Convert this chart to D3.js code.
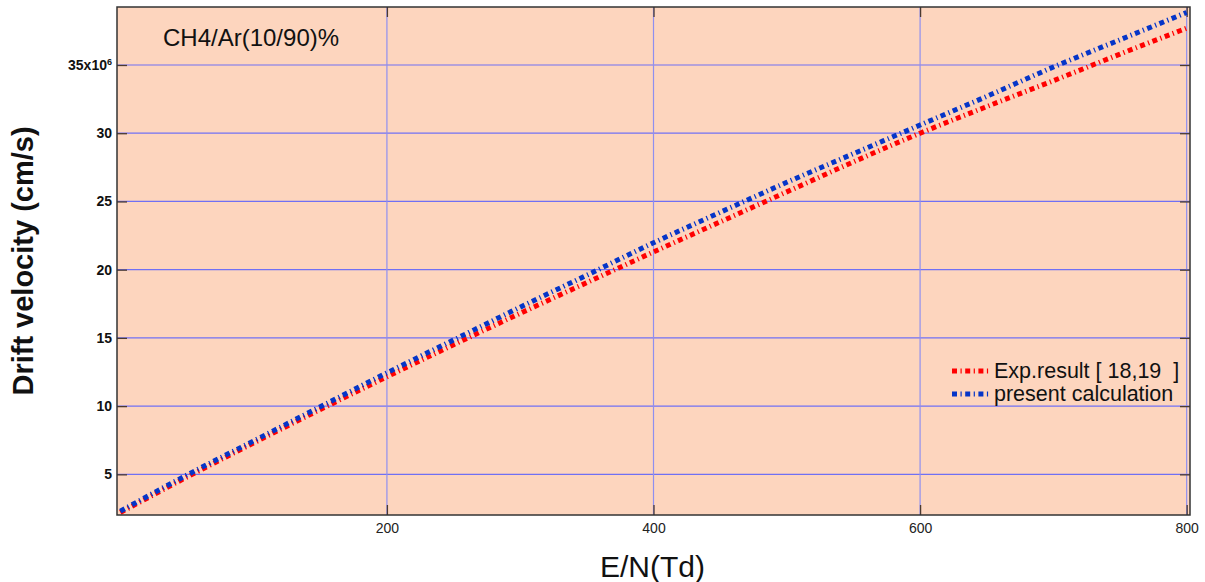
<!DOCTYPE html>
<html>
<head>
<meta charset="utf-8">
<script src="https://cdn.jsdelivr.net/npm/d3@7"></script>
<style>
  body { margin: 0; background: #ffffff; }
  text { font-family: "Liberation Sans", Arial, sans-serif; }
</style>
</head>
<body>
<div id="my_dataviz"></div>
<script>
// data (E/N in Td, drift velocity in 10^6 cm/s)
var enValues = [0, 50, 100, 150, 200, 250, 300, 350, 400, 450, 500, 550, 600, 650, 700, 750, 800];
var expResult = [2.2, 4.8, 7.3, 9.75, 12.15, 14.5, 16.8, 19.05, 21.3, 23.5, 25.7, 27.9, 30.0, 31.95, 33.85, 35.8, 37.7];
var presentCalc = [2.3, 4.95, 7.45, 9.95, 12.44, 14.85, 17.25, 19.6, 21.97, 24.2, 26.4, 28.5, 30.6, 32.7, 34.85, 36.85, 38.85];
var xTicks = [200, 400, 600, 800];
var yTicks = [5, 10, 15, 20, 25, 30, 35];
var seriesNames = ["Exp.result [ 18,19  ]", "present calculation"];
var seriesColors = ["#ff0000", "#0535c8"];

// set the dimensions and margins of the graph
var margin = {top: 7, right: 15, bottom: 67, left: 117},
    width = 1205 - margin.left - margin.right,
    height = 582 - margin.top - margin.bottom;

var svg = d3.select("#my_dataviz")
    .append("svg")
    .attr("width", width + margin.left + margin.right)
    .attr("height", height + margin.top + margin.bottom)
    .append("g")
    .attr("transform", "translate(" + margin.left + "," + margin.top + ")");

// scales
var x = d3.scaleLinear()
    .domain([-2.5, 802.5])
    .range([0, width]);
var y = d3.scaleLinear()
    .domain([2.02, 39.25])
    .range([height, 0]);

// plot background
svg.append("rect")
    .attr("width", width)
    .attr("height", height)
    .style("fill", "#fdd5be");

// grid lines
svg.append("g")
    .selectAll("line")
    .data(yTicks)
    .enter().append("line")
    .attr("x1", 0)
    .attr("x2", width)
    .attr("y1", function(d) { return y(d) })
    .attr("y2", function(d) { return y(d) })
    .style("stroke", "#7070f4")
    .style("stroke-width", 1.2);
svg.append("g")
    .selectAll("line")
    .data(xTicks)
    .enter().append("line")
    .attr("x1", function(d) { return x(d) })
    .attr("x2", function(d) { return x(d) })
    .attr("y1", 0)
    .attr("y2", height)
    .style("stroke", "#8f8ff0")
    .style("stroke-width", 1.2);

// axes with inward ticks
var yAxis = svg.append("g")
    .call(d3.axisLeft(y).tickValues(yTicks).tickSize(-10).tickPadding(5))
yAxis.select(".domain").remove();
yAxis.selectAll("line").style("stroke", "#4a3a30").style("stroke-width", 1.3);
yAxis.selectAll("text")
    .style("font-size", "14px")
    .style("font-weight", "bold")
    .style("fill", "#111");
yAxis.selectAll("text").filter(function(d) { return d === 35 })
    .text("35x10")
    .append("tspan")
    .attr("dy", "-0.6em")
    .style("font-size", "9px")
    .text("6");

var xAxis = svg.append("g")
    .attr("transform", "translate(0," + height + ")")
    .call(d3.axisBottom(x).tickValues(xTicks).tickSize(-10).tickPadding(8))
xAxis.select(".domain").remove();
xAxis.selectAll("line").style("stroke", "#4a3a30").style("stroke-width", 1.3);
xAxis.selectAll("text")
    .style("font-size", "14px")
    .style("fill", "#222");

var rightAxis = svg.append("g")
    .attr("transform", "translate(" + width + ",0)")
    .call(d3.axisRight(y).tickValues(yTicks).tickSize(-10).tickFormat(""))
rightAxis.select(".domain").remove();
rightAxis.selectAll("line").style("stroke", "#4a3a30").style("stroke-width", 1.3);

var topAxis = svg.append("g")
    .call(d3.axisTop(x).tickValues(xTicks).tickSize(-10).tickFormat(""))
topAxis.select(".domain").remove();
topAxis.selectAll("line").style("stroke", "#4a3a30").style("stroke-width", 1.3);

// clip for the curves
svg.append("clipPath")
    .attr("id", "plotclip")
    .append("rect")
    .attr("width", width)
    .attr("height", height);

var line = d3.line()
    .x(function(d) { return x(d[0]) })
    .y(function(d) { return y(d[1]) })
    .curve(d3.curveMonotoneX);

[expResult, presentCalc].forEach(function(vals, i) {
    svg.append("path")
        .datum(enValues.map(function(e, j) { return [e, vals[j]] }))
        .attr("clip-path", "url(#plotclip)")
        .attr("d", line)
        .style("fill", "none")
        .style("stroke", seriesColors[i])
        .style("stroke-width", 5)
        .style("stroke-dasharray", "5,3.5,1.2,3.5");
});

// frame
svg.append("rect")
    .attr("width", width)
    .attr("height", height)
    .style("fill", "none")
    .style("stroke", "#333")
    .style("stroke-width", 1.5);

// gas mixture label
svg.append("text")
    .attr("x", 163 - margin.left)
    .attr("y", 46 - margin.top)
    .style("font-size", "24px")
    .style("fill", "#111")
    .text("CH4/Ar(10/90)%");

// legend
var legend = svg.selectAll(".legend")
    .data(seriesNames)
    .enter().append("g")
    .attr("class", "legend")
    .attr("transform", function(d, i) { return "translate(" + (952 - margin.left) + "," + (371 - margin.top + i * 23) + ")"; });

legend.append("line")
    .attr("x1", 0)
    .attr("x2", 38)
    .style("stroke", function(d, i) { return seriesColors[i] })
    .style("stroke-width", 5)
    .style("stroke-dasharray", "5,3.5,1.2,3.5");

legend.append("text")
    .attr("x", 42)
    .attr("y", 7)
    .style("font-size", "21.5px")
    .style("fill", "#111")
    .style("white-space", "pre")
    .text(String);

// axis titles
svg.append("text")
    .attr("x", x(400) - 1)
    .attr("y", 577 - margin.top)
    .attr("text-anchor", "middle")
    .style("font-size", "30px")
    .style("fill", "#111")
    .text("E/N(Td)");

svg.append("text")
    .attr("transform", "translate(" + (33 - margin.left) + "," + (height / 2) + ") rotate(-90)")
    .attr("text-anchor", "middle")
    .style("font-size", "29px")
    .style("font-weight", "bold")
    .style("fill", "#111")
    .text("Drift velocity (cm/s)");
</script>
</body>
</html>
